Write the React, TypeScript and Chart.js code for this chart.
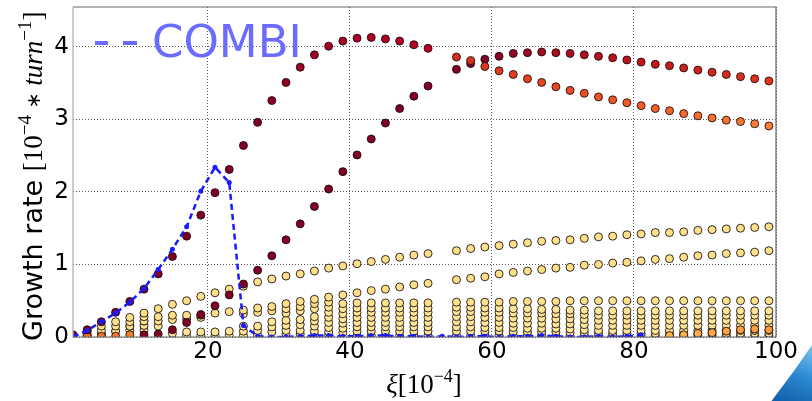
import React, { useEffect, useRef } from "react";
import { Chart, registerables } from "chart.js";
Chart.register(...registerables);

// x positions (xi in 1e-4), odd values, 53 missing
const xs = [1,3,5,7,9,11,13,15,17,19,21,23,25,27,29,31,33,35,37,39,41,43,45,47,49,51,55,57,59,61,63,65,67,69,71,73,75,77,79,81,83,85,87,89,91,93,95,97,99];

const modeA = [0.03,0.10,0.21,0.34,0.49,0.66,0.87,1.11,1.39,1.68,1.99,2.31,2.64,2.96,3.26,3.51,3.72,3.89,4.01,4.08,4.12,4.13,4.11,4.08,4.03,3.98,3.86,3.81,3.73,3.67,3.62,3.56,3.51,3.45,3.40,3.36,3.31,3.27,3.23,3.19,3.15,3.12,3.08,3.05,3.02,2.99,2.97,2.94,2.91];
const modeB = [null,null,null,null,null,0.03,0.04,0.10,0.20,0.31,0.43,0.58,0.73,0.92,1.12,1.34,1.56,1.80,2.04,2.28,2.51,2.73,2.95,3.15,3.32,3.46,3.69,3.77,3.83,3.87,3.91,3.92,3.93,3.92,3.91,3.89,3.87,3.85,3.82,3.79,3.76,3.74,3.71,3.68,3.65,3.62,3.59,3.56,3.53];

const yellow1 = [0.02,0.08,0.15,0.21,0.27,0.33,0.39,0.45,0.50,0.56,0.61,0.66,0.70,0.76,0.80,0.84,0.87,0.91,0.95,0.98,1.01,1.04,1.07,1.10,1.13,1.15,1.19,1.22,1.24,1.26,1.28,1.30,1.32,1.33,1.34,1.36,1.38,1.39,1.41,1.42,1.44,1.44,1.45,1.47,1.48,1.49,1.50,1.51,1.52];
const yellow2 = [null,0.04,0.09,0.15,0.21,0.28,0.28,0.30,0.30,0.30,0.33,0.35,0.37,0.40,0.42,0.46,0.49,0.52,0.55,0.58,0.61,0.64,0.66,0.69,0.72,0.74,0.79,0.81,0.83,0.87,0.89,0.91,0.93,0.95,0.96,0.99,1.00,1.02,1.03,1.05,1.07,1.08,1.10,1.12,1.13,1.15,1.16,1.17,1.19];
const stack1 = [null,0.02,0.04,0.08,0.15,0.22,0.22,0.24,0.25,0.27,null,null,0.32,0.34,0.36,0.39,0.42,0.46,0.48,0.46,0.47,0.47,0.47,0.47,0.47,0.47,0.48,0.48,0.48,0.48,0.49,0.49,0.49,0.49,0.50,0.50,0.50,0.50,0.50,0.50,0.50,0.50,0.50,0.50,0.50,0.50,0.50,0.50,0.50];
const stack2 = [null,null,null,null,null,0.22,0.15,null,null,null,null,null,null,null,null,0.33,0.36,0.39,0.41,0.39,0.40,0.40,0.40,0.40,0.40,0.40,0.41,0.41,0.40,0.40,0.39,0.39,0.38,0.38,0.37,0.37,0.36,0.36,0.36,0.36,0.36,0.36,0.36,0.36,0.36,0.36,0.36,0.36,0.36];
const stack3 = [null,null,null,null,0.15,0.16,null,null,null,null,null,null,0.15,0.15,0.21,0.23,0.24,0.28,0.34,0.32,0.34,0.34,0.34,0.34,0.34,0.34,0.35,0.35,0.34,0.34,0.33,0.33,0.33,0.32,0.32,0.31,0.30,0.30,0.30,0.30,0.30,0.30,0.30,0.30,0.30,0.30,0.30,0.30,0.30];
const stack4 = [null,null,0.04,0.08,0.09,0.09,null,null,null,null,null,null,null,0.09,0.14,0.16,0.17,0.22,0.27,0.25,0.27,0.27,0.27,0.27,0.27,0.27,0.28,0.28,0.27,0.27,0.26,0.26,0.26,0.25,0.25,0.24,0.23,0.23,0.23,0.23,0.23,0.23,0.23,0.23,0.23,0.23,0.23,0.23,0.23];
const stack5 = [null,null,null,null,null,null,null,0.05,0.07,0.07,0.07,0.08,0.08,0.02,0.07,0.09,0.09,0.15,0.20,0.19,0.20,0.20,0.20,0.20,0.20,0.20,0.21,0.21,0.20,0.20,0.19,0.19,0.19,0.18,0.18,0.17,0.16,0.16,0.16,0.16,0.16,0.16,0.16,0.16,0.16,0.16,0.16,0.16,0.16];
const stack6 = [null,null,null,null,null,null,null,null,0.02,0.02,0.02,0.02,0.02,null,null,0.04,0.04,0.08,0.13,0.12,0.14,0.14,0.14,0.14,0.14,0.14,0.14,0.14,0.13,0.13,0.13,0.12,0.12,0.12,0.11,0.10,0.09,0.09,0.09,0.09,0.09,0.09,0.09,0.09,0.09,0.09,0.09,0.09,0.09];
const stack7 = [null,null,null,null,null,null,null,null,null,null,null,null,null,null,null,null,null,0.02,0.07,0.06,0.08,0.08,0.08,0.08,0.08,0.08,0.08,0.08,0.08,0.08,0.07,0.07,0.07,0.07,0.06,0.06,0.05,0.05,0.05,0.05,0.05,0.05,0.05,0.05,0.05,0.05,0.05,0.05,0.05];
const stack8 = [null,null,null,null,null,null,null,null,null,null,null,null,null,null,null,null,null,null,0.02,null,0.02,0.02,0.02,0.02,0.02,0.02,0.02,0.02,0.02,0.02,0.02,0.02,0.02,0.02,0.02,0.02,0.02,0.02,0.02,0.02,0.02,0.02,0.02,0.02,0.02,0.02,0.02,0.02,0.02];
const orangeLow = [0.01,0.01,0.01,0.01,0.03,null,null,null,null,null,null,null,null,null,null,null,null,null,null,null,null,null,null,null,null,null,null,null,null,null,null,null,null,null,null,null,null,null,null,null,null,0.02,0.03,0.05,0.06,0.08,0.10,0.11,0.10];

// COMBI curve
const combiX = [1,3,5,7,9,11,13,15,17,19,21,23,25,27,29,31,33,35,37,39,41,43,45,47,49,51,53,55,57,59,61,63,65,67,69,71,73,75,77,79,81];
const combiY = [0.00,0.09,0.21,0.33,0.48,0.67,0.93,1.21,1.52,2.01,2.34,2.13,0.16,0.01,0.00,0.00,0.01,0.02,0.02,0.01,0.01,0.02,0.02,0.01,0.01,0.00,0.01,0.00,0.01,0.01,0.00,0.01,0.01,0.02,0.01,0.00,0.00,0.01,0.00,0.01,0.03];

const xTicks = [20, 40, 60, 80, 100];
const yTicks = [0, 1, 2, 3, 4];

const modeAColors: [number, string][] = [[1,"#800026"],[25,"#800026"],[35,"#A00024"],[51,"#BD0026"],[55,"#D7301F"],[65,"#E8401E"],[99,"#FC7E36"]];
const modeBColors: [number, string][] = [[1,"#800026"],[59,"#800026"],[65,"#9E0A22"],[81,"#C0141E"],[99,"#E3351E"]];
const orangeColors: [number, string][] = [[1,"#EE6A2A"],[9,"#F08030"],[85,"#FDB04A"],[99,"#FD9A3E"]];

function hexRgb(h: string) { const n = parseInt(h.slice(1), 16); return [(n >> 16) & 255, (n >> 8) & 255, n & 255]; }
function colorAt(stops: [number, string][], x: number) {
  if (x <= stops[0][0]) return stops[0][1];
  for (let i = 1; i < stops.length; i++) {
    if (x <= stops[i][0]) {
      const t = (x - stops[i - 1][0]) / (stops[i][0] - stops[i - 1][0]);
      const a = hexRgb(stops[i - 1][1]), b = hexRgb(stops[i][1]);
      return `rgb(${Math.round(a[0] + (b[0] - a[0]) * t)},${Math.round(a[1] + (b[1] - a[1]) * t)},${Math.round(a[2] + (b[2] - a[2]) * t)})`;
    }
  }
  return stops[stops.length - 1][1];
}

function pts(vals: (number | null)[]) {
  const out: { x: number; y: number }[] = [];
  xs.forEach((x, i) => { if (vals[i] != null) out.push({ x, y: vals[i] as number }); });
  return out;
}

const decor = {
  id: "decor",
  afterDatasetsDraw(chart: any) {
    const { ctx, chartArea: a } = chart;
    ctx.save();
    // frame
    ctx.lineWidth = 1.2;
    ctx.strokeStyle = "#666";
    ctx.beginPath();
    ctx.moveTo(a.left, a.top); ctx.lineTo(a.right, a.top); ctx.lineTo(a.right, a.bottom); ctx.lineTo(a.left, a.bottom);
    ctx.stroke();
    ctx.strokeStyle = "#aaa";
    ctx.beginPath(); ctx.moveTo(a.left, a.top); ctx.lineTo(a.left, a.bottom); ctx.stroke();
    // legend
    ctx.strokeStyle = "#6b6bff";
    ctx.lineWidth = 4;
    ctx.beginPath();
    ctx.moveTo(95, 43); ctx.lineTo(108, 43);
    ctx.moveTo(123, 43); ctx.lineTo(137, 43);
    ctx.stroke();
    ctx.fillStyle = "#6b6bff";
    ctx.font = '45px "DejaVu Sans"';
    ctx.textBaseline = "alphabetic";
    ctx.textAlign = "left";
    ctx.fillText("COMBI", 152, 57);
    ctx.restore();
  },
  afterDraw(chart: any) {
    const { ctx } = chart;
    ctx.save();
    ctx.fillStyle = "#000";
    ctx.textBaseline = "alphabetic";
    ctx.textAlign = "left";
    // y title, rotated
    const segsY: [string, string, number][] = [
      ["Growth rate ", '27px "DejaVu Sans"', 0],
      ["[10", '27px "Liberation Serif"', 0],
      ["\u22124", '19px "Liberation Serif"', -11],
      [" ", '27px "Liberation Serif"', 0],
      ["\u2217", '19px "DejaVu Sans"', -2],
      [" ", '27px "Liberation Serif"', 0],
      ["turn", 'italic 27px "Liberation Serif"', 0],
      ["\u22121", '19px "Liberation Serif"', -11],
      ["]", '27px "Liberation Serif"', 0],
    ];
    ctx.translate(42, 341);
    ctx.rotate(-Math.PI / 2);
    let px = 0;
    for (const [t, f, dy] of segsY) {
      ctx.font = f;
      ctx.fillText(t, px, dy);
      px += ctx.measureText(t).width;
    }
    ctx.setTransform(1, 0, 0, 1, 0, 0);
    // x title
    const segsX: [string, string, number][] = [
      ["\u03be", 'italic 27px "Liberation Serif"', 0],
      ["[10", '27px "Liberation Serif"', 0],
      ["\u22124", '18px "Liberation Serif"', -11],
      ["]", '27px "Liberation Serif"', 0],
    ];
    let w = 0;
    for (const [t, f] of segsX) { ctx.font = f; w += ctx.measureText(t).width; }
    let sx = 424 - w / 2;
    for (const [t, f, dy] of segsX) {
      ctx.font = f;
      ctx.fillText(t, sx, 393 + dy);
      sx += ctx.measureText(t).width;
    }
    ctx.restore();
  },
};

export default function App() {
  const ref = useRef<HTMLCanvasElement | null>(null);
  useEffect(() => {
    if (!ref.current) return;
    const dot = (data: any, bg: any, extra: any = {}) => ({
      data,
      backgroundColor: bg,
      borderColor: "rgba(20,10,10,0.85)",
      borderWidth: 1,
      pointRadius: 4,
      pointHoverRadius: 4,
      showLine: false,
      clip: 0,
      ...extra,
    });
    const yellow = "#FEE08B";
    const yellowPale = "#FFE597";
    const chart = new Chart(ref.current, {
      type: "scatter",
      data: {
        datasets: [
          {
            label: "COMBI",
            data: combiX.map((x, i) => ({ x, y: combiY[i] })),
            showLine: true,
            borderColor: "#1a1aff",
            borderDash: [6, 4],
            borderWidth: 2.5,
            pointRadius: 2.5,
            pointBackgroundColor: "#1a1aff",
            pointBorderWidth: 0,
            backgroundColor: "#1a1aff",
            tension: 0,
            clip: 0,
          } as any,
          dot(pts(modeA), (c: any) => colorAt(modeAColors, c.raw ? c.raw.x : 1)),
          dot(pts(modeB), (c: any) => colorAt(modeBColors, c.raw ? c.raw.x : 1)),
          dot(pts(orangeLow), (c: any) => colorAt(orangeColors, c.raw ? c.raw.x : 1)),
          dot(pts(yellow1), yellow),
          dot(pts(yellow2), yellow),
          dot(pts(stack1), yellow),
          dot(pts(stack2), yellowPale),
          dot(pts(stack3), yellowPale),
          dot(pts(stack4), yellowPale),
          dot(pts(stack5), yellowPale),
          dot(pts(stack6), yellowPale),
          dot(pts(stack7), yellowPale),
          dot(pts(stack8), yellowPale),
        ],
      },
      options: {
        animation: false,
        responsive: false,
        events: [],
        layout: { padding: { left: 0, right: 36, top: 7, bottom: 0 } },
        plugins: { legend: { display: false }, tooltip: { enabled: false } },
        scales: {
          x: {
            type: "linear",
            min: 1,
            max: 100,
            afterBuildTicks: (s: any) => { s.ticks = xTicks.map((v) => ({ value: v })); },
            afterFit: (s: any) => { s.height = 64; s.paddingLeft = 0; s.paddingRight = 0; },
            ticks: { color: "#000", font: { family: "DejaVu Sans", size: 23 }, padding: 1, maxRotation: 0 },
            grid: { color: "rgba(0,0,0,0.65)", lineWidth: 1, drawTicks: false },
            border: { display: false, dash: [1, 2] },
          },
          y: {
            type: "linear",
            min: 0,
            max: 4.55,
            afterBuildTicks: (s: any) => { s.ticks = yTicks.map((v) => ({ value: v })); },
            afterFit: (s: any) => { s.width = 73; s.paddingTop = 0; s.paddingBottom = 0; },
            ticks: { color: "#000", font: { family: "DejaVu Sans", size: 23 }, padding: 4 },
            grid: { color: "rgba(0,0,0,0.65)", lineWidth: 1, drawTicks: false },
            border: { display: false, dash: [1, 2] },
          },
        },
      } as any,
      plugins: [decor],
    });
    return () => chart.destroy();
  }, []);
  return (
    <div style={{ position: "fixed", left: 0, top: 0, width: 812, height: 401, background: "#fff", overflow: "hidden" }}>
      <canvas ref={ref} width={812} height={401} style={{ display: "block" }} />
      <div
        style={{
          position: "absolute",
          left: 768,
          top: 345,
          width: 44,
          height: 56,
          background: "linear-gradient(200deg, #7cc4f0 0%, #2a88d0 50%, #0f5aa8 100%)",
          clipPath: "polygon(100% 0%, 100% 100%, 8% 100%, 60% 45%)",
        }}
      />
    </div>
  );
}
